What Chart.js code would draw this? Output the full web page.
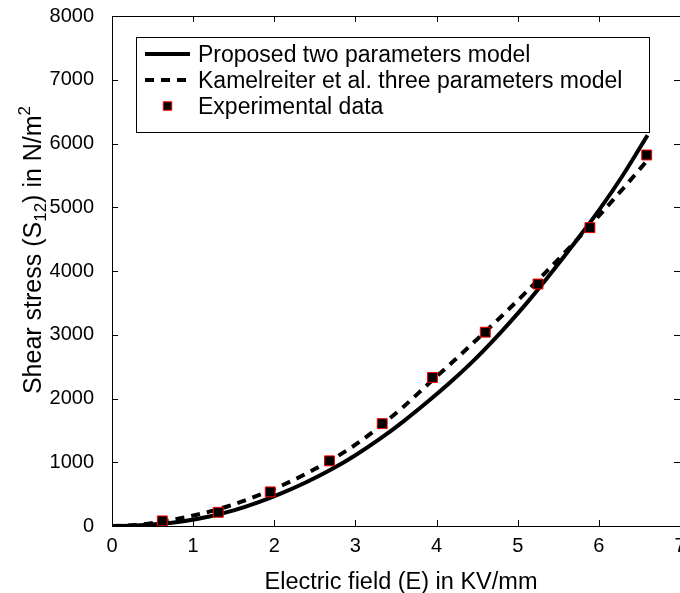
<!DOCTYPE html>
<html>
<head>
<meta charset="utf-8">
<title>Shear stress vs electric field</title>
<script src="https://cdn.jsdelivr.net/npm/chart.js@4.4.1/dist/chart.umd.min.js"></script>
<style>
  html, body { margin: 0; padding: 0; background: #fff; }
  #wrap { width: 680px; height: 593px; }
</style>
</head>
<body>
<div id="wrap"><canvas id="stressChart" width="680" height="593"></canvas></div>
<script>
// Electric field (KV/mm) where the two model curves were read
const fieldE = [0, 0.3, 0.6, 0.9, 1.2, 1.5, 1.8, 2.1, 2.4, 2.7, 3.0, 3.3, 3.6, 3.9, 4.2, 4.5, 4.8, 5.1, 5.4, 5.7, 6.0, 6.3, 6.6];

// Proposed two parameters model (N/m^2)
const proposedModel = [0, 8, 35, 80, 150, 245, 370, 520, 690, 885, 1110, 1365, 1650, 1960, 2290, 2650, 3050, 3480, 3950, 4440, 4950, 5510, 6130];

// Kamelreiter et al. three parameters model (N/m^2)
const kamelreiterModel = [0, 15, 65, 135, 225, 340, 480, 640, 825, 1035, 1275, 1560, 1880, 2230, 2575, 2930, 3290, 3665, 4050, 4450, 4865, 5295, 5740];

// Experimental data
const expField = [0.62, 1.31, 1.95, 2.68, 3.33, 3.95, 4.60, 5.25, 5.89, 6.59];
const expStress = [80, 215, 535, 1022, 1606, 2330, 3040, 3796, 4680, 5820];

// Tick labels
const xTicks = [0, 1, 2, 3, 4, 5, 6, 7];
const yTicks = [0, 1000, 2000, 3000, 4000, 5000, 6000, 7000, 8000];

const seriesNames = [
    'Proposed two parameters model',
    'Kamelreiter et al. three parameters model',
    'Experimental data'
];

const FONT = '"Liberation Sans", Arial, Helvetica, sans-serif';

const toPoints = (xs, ys) => xs.map((x, i) => ({ x: x, y: ys[i] }));

// Box legend drawn inside the plot, MATLAB style
const boxLegend = {
    id: 'boxLegend',
    afterDatasetsDraw(chart) {
        const ctx = chart.ctx;
        const sets = chart.data.datasets;
        ctx.save();
        ctx.fillStyle = '#fff';
        ctx.fillRect(136.5, 37.5, 513, 95);
        ctx.strokeStyle = '#000';
        ctx.lineWidth = 1;
        ctx.strokeRect(136.5, 37.5, 513, 95);

        ctx.font = '23px ' + FONT;
        ctx.textAlign = 'left';
        ctx.textBaseline = 'alphabetic';
        sets.forEach((ds, i) => {
            const base = 62 + i * 26;
            const mid = base - 8;
            if (ds.showLine === false) {
                ctx.setLineDash([]);
                ctx.fillStyle = ds.backgroundColor;
                ctx.strokeStyle = ds.borderColor;
                ctx.lineWidth = ds.borderWidth;
                Chart.helpers.drawPoint(ctx, { pointStyle: 'rect', radius: 6, borderWidth: ds.borderWidth, rotation: 0 }, 167.5, mid);
            } else {
                ctx.strokeStyle = ds.borderColor;
                ctx.lineWidth = ds.borderWidth;
                ctx.setLineDash(ds.borderDash || []);
                ctx.beginPath();
                ctx.moveTo(145, mid);
                ctx.lineTo(190, mid);
                ctx.stroke();
            }
            ctx.setLineDash([]);
            ctx.fillStyle = '#000';
            ctx.fillText(ds.label, 198, base);
        });
        ctx.restore();
    }
};

// Axes box, inward ticks and axis titles
const axesFrame = {
    id: 'axesFrame',
    afterDraw(chart) {
        const ctx = chart.ctx;
        const a = chart.chartArea;
        const xs = chart.scales.x;
        const ys = chart.scales.y;
        const tick = 6;
        ctx.save();
        ctx.strokeStyle = '#000';
        ctx.lineWidth = 1;
        ctx.strokeRect(a.left + 0.5, a.top + 0.5, a.right - a.left, a.bottom - a.top);
        ctx.beginPath();
        xTicks.forEach(v => {
            const px = Math.round(xs.getPixelForValue(v)) + 0.5;
            ctx.moveTo(px, a.bottom);
            ctx.lineTo(px, a.bottom - tick);
            ctx.moveTo(px, a.top);
            ctx.lineTo(px, a.top + tick);
        });
        yTicks.forEach(v => {
            const py = Math.round(ys.getPixelForValue(v)) + 0.5;
            ctx.moveTo(a.left, py);
            ctx.lineTo(a.left + tick, py);
            ctx.moveTo(a.right, py);
            ctx.lineTo(a.right - tick, py);
        });
        ctx.stroke();

        // x title
        ctx.fillStyle = '#000';
        ctx.font = '23.5px ' + FONT;
        ctx.textAlign = 'center';
        ctx.textBaseline = 'alphabetic';
        ctx.fillText('Electric field (E) in KV/mm', 401, 589);

        // y title with subscript and superscript
        const parts = [
            { t: 'Shear stress (S', size: 25, dy: 0 },
            { t: '12', size: 17, dy: 5 },
            { t: ') in N/m', size: 25, dy: 0 },
            { t: '2', size: 17, dy: -11 }
        ];
        let total = 0;
        parts.forEach(p => {
            ctx.font = p.size + 'px ' + FONT;
            p.w = ctx.measureText(p.t).width;
            total += p.w;
        });
        ctx.translate(41, 250);
        ctx.rotate(-Math.PI / 2);
        ctx.textAlign = 'left';
        let x = -total / 2;
        parts.forEach(p => {
            ctx.font = p.size + 'px ' + FONT;
            ctx.fillText(p.t, x, p.dy);
            x += p.w;
        });
        ctx.restore();
    }
};

window.onload = function() {
    new Chart(
        document.getElementById('stressChart'),
        {
            type: 'line',
            data: {
                datasets: [
                    {
                        label: seriesNames[0],
                        data: toPoints(fieldE, proposedModel),
                        borderColor: '#000',
                        borderWidth: 4,
                        pointRadius: 0,
                        cubicInterpolationMode: 'monotone',
                        fill: false,
                        order: 2
                    },
                    {
                        label: seriesNames[1],
                        data: toPoints(fieldE, kamelreiterModel),
                        borderColor: '#000',
                        borderWidth: 4,
                        borderDash: [9, 7],
                        pointRadius: 0,
                        cubicInterpolationMode: 'monotone',
                        fill: false,
                        order: 1
                    },
                    {
                        label: seriesNames[2],
                        data: toPoints(expField, expStress),
                        showLine: false,
                        pointStyle: 'rect',
                        pointRadius: 7,
                        pointHoverRadius: 7,
                        backgroundColor: '#000',
                        borderColor: '#ff0000',
                        borderWidth: 1,
                        order: 0
                    }
                ]
            },
            options: {
                responsive: false,
                animation: false,
                events: [],
                layout: {
                    autoPadding: false,
                    padding: { top: 16, right: 0, bottom: 0, left: 0 }
                },
                plugins: {
                    legend: { display: false },
                    tooltip: { enabled: false },
                    title: { display: false }
                },
                scales: {
                    x: {
                        type: 'linear',
                        min: 0,
                        max: 7,
                        grid: { display: false },
                        border: { display: false },
                        afterBuildTicks: (scale) => { scale.ticks = xTicks.map(v => ({ value: v })); },
                        afterFit: (scale) => { scale.height = 67; scale.paddingRight = 0; },
                        ticks: {
                            color: '#000',
                            padding: 0,
                            maxRotation: 0,
                            callback: (v) => String(v),
                            font: { family: FONT, size: 20 }
                        }
                    },
                    y: {
                        type: 'linear',
                        min: 0,
                        max: 8000,
                        grid: { display: false },
                        border: { display: false },
                        afterBuildTicks: (scale) => { scale.ticks = yTicks.map(v => ({ value: v })); },
                        afterFit: (scale) => { scale.width = 112; scale.paddingTop = 0; scale.paddingBottom = 0; },
                        ticks: {
                            color: '#000',
                            padding: 10,
                            callback: (v) => String(v),
                            font: { family: FONT, size: 20 }
                        }
                    }
                }
            },
            plugins: [boxLegend, axesFrame]
        }
    );
};
</script>
</body>
</html>
